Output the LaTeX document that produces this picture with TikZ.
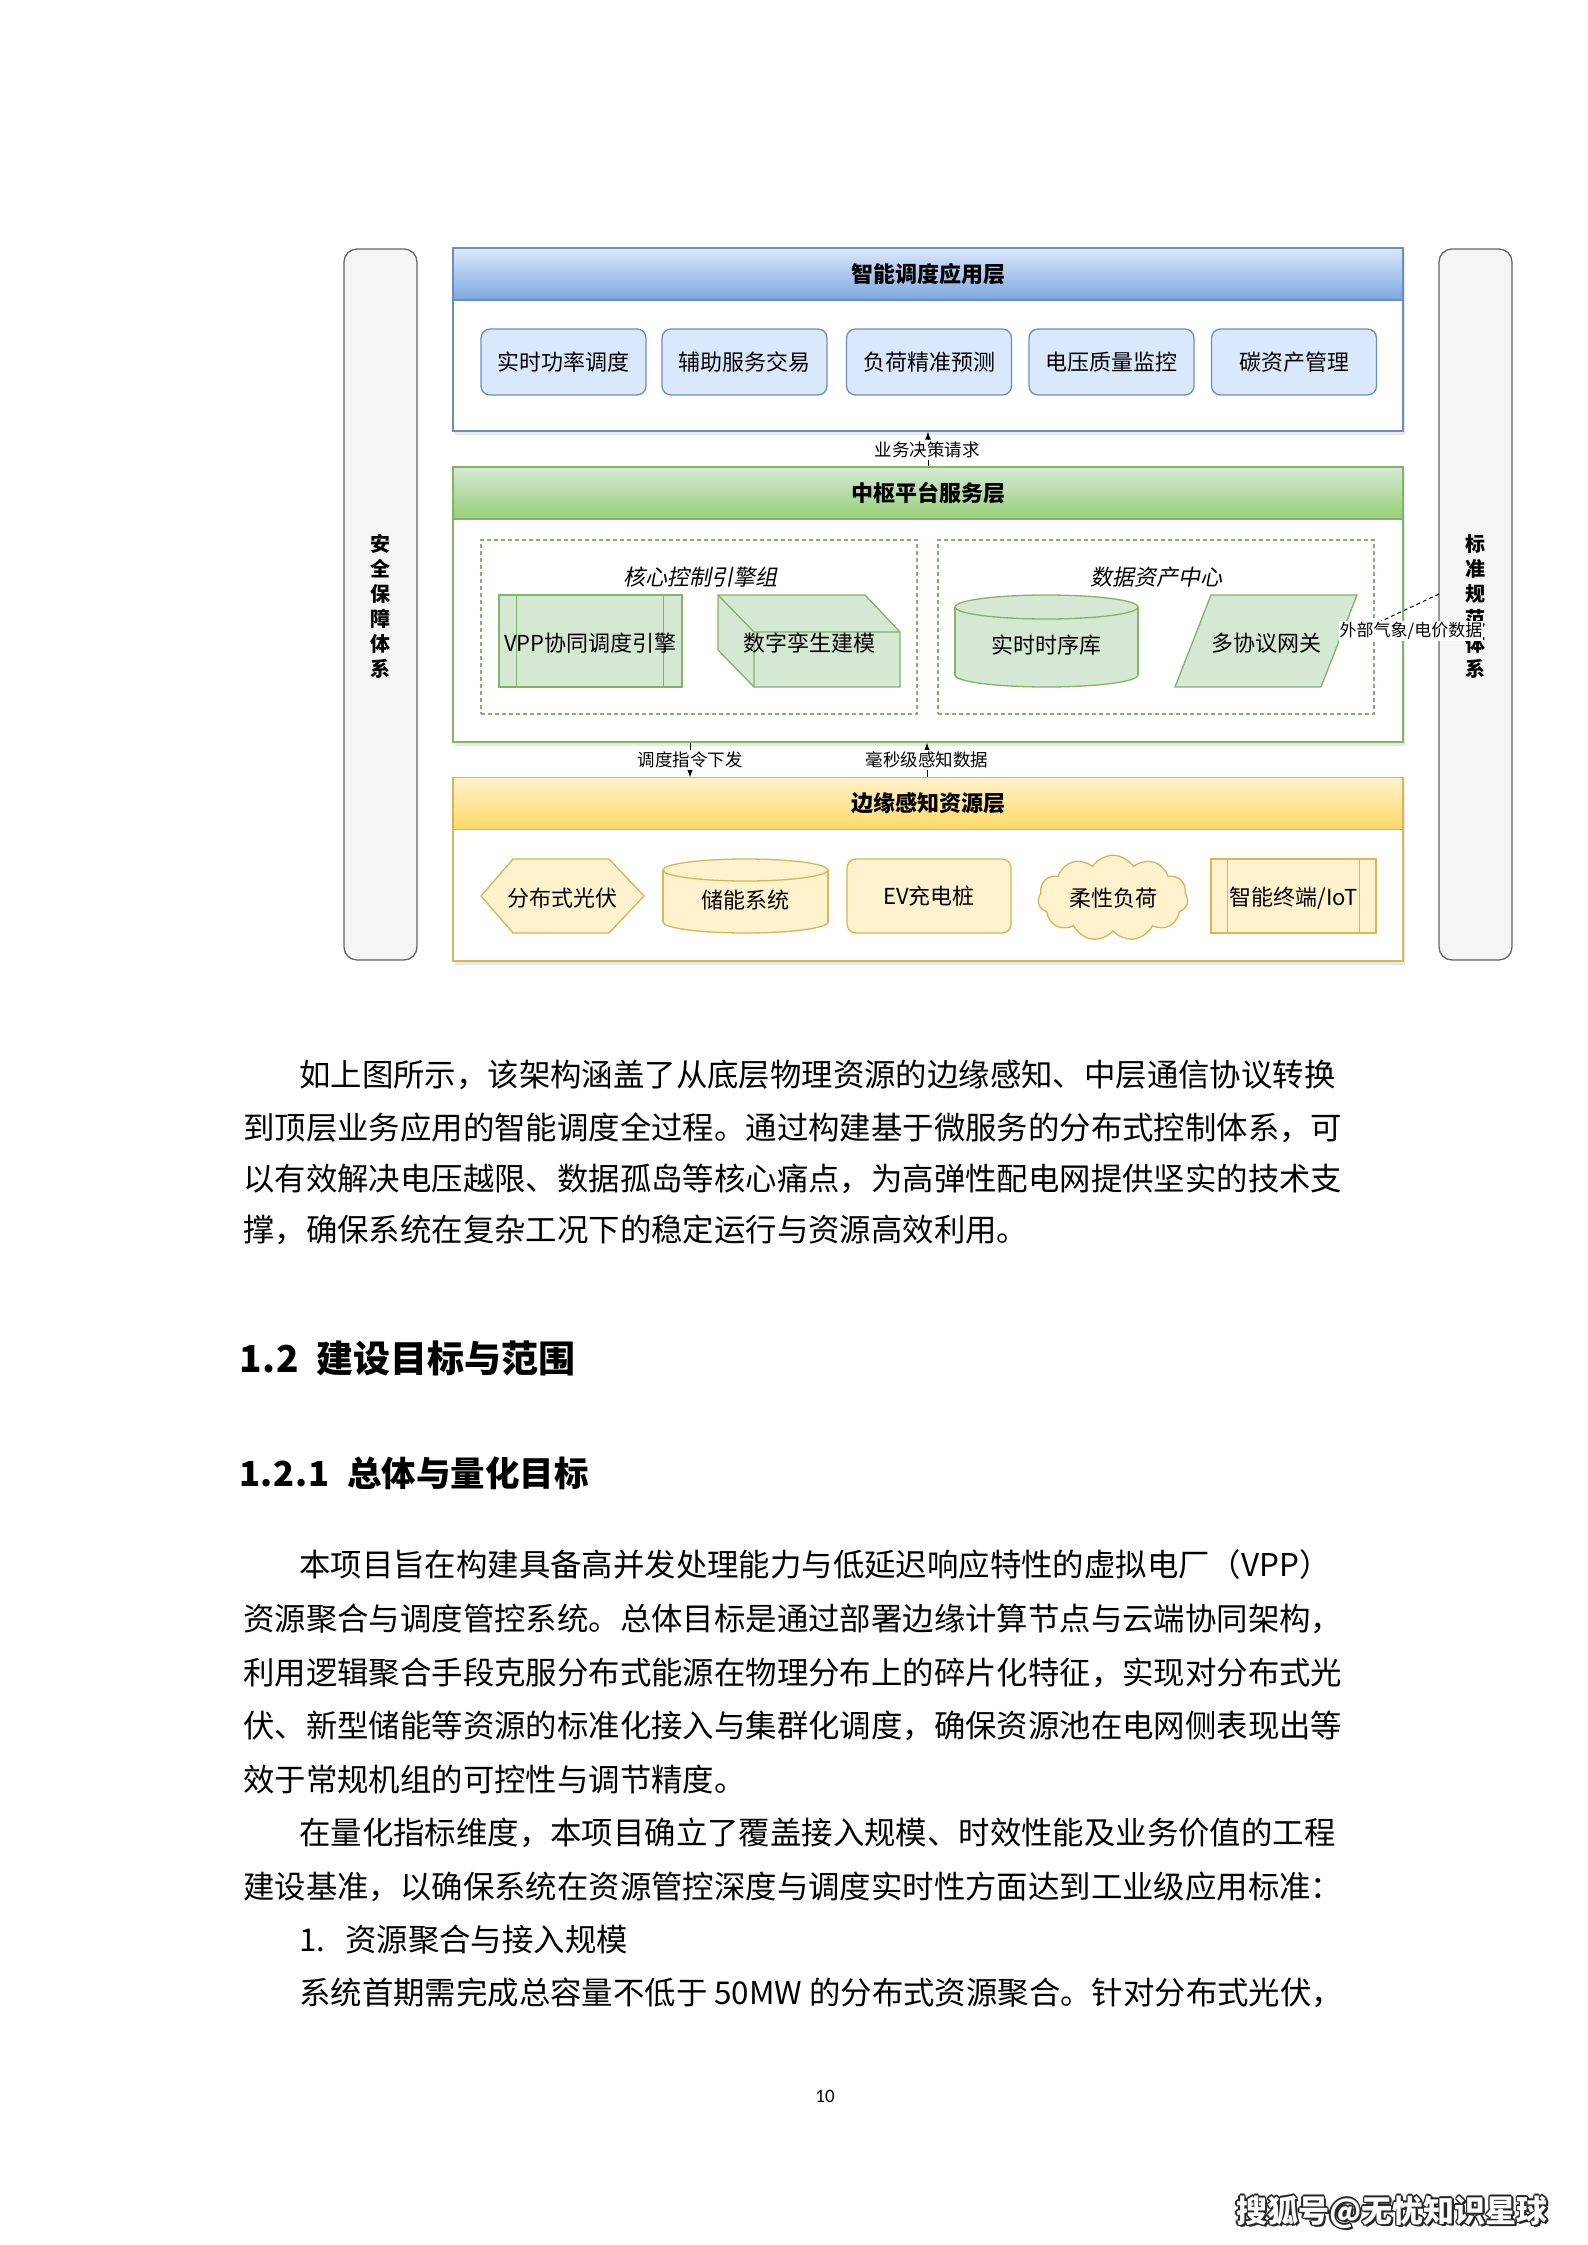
\documentclass[tikz,border=0pt]{standalone}
\usepackage{fontspec}
\setmainfont{Noto Sans CJK SC}
\newfontfamily\cjkit[FakeSlant=0.2]{Noto Sans CJK SC}
\newfontfamily\pagefont{Carlito}
\usetikzlibrary{arrows.meta,shapes.symbols,shadows,calc}
\definecolor{bf}{HTML}{DAE8FC}\definecolor{bg}{HTML}{7EA6E0}\definecolor{bs}{HTML}{6C8EBF}
\definecolor{gf}{HTML}{D5E8D4}\definecolor{gg}{HTML}{97D077}\definecolor{gs}{HTML}{82B366}
\definecolor{yf}{HTML}{FFF2CC}\definecolor{yg}{HTML}{FFD966}\definecolor{ys}{HTML}{D6B656}
\definecolor{sidef}{HTML}{F5F5F5}\definecolor{sides}{HTML}{666666}
\XeTeXinterchartokenstate=1
\XeTeXinterchartoks 1 1 = {\hskip 0pt plus 3pt\relax}
\XeTeXinterchartoks 1 2 = {\hskip 0pt plus 3pt\relax}
\XeTeXinterchartoks 1 3 = {\hskip 0pt plus 3pt\relax}
\XeTeXinterchartoks 2 1 = {\hskip 0pt plus 3pt\relax}
\XeTeXinterchartoks 3 1 = {\hskip 0pt plus 3pt\relax}
\newcommand\dgfont{\fontsize{22}{26}\selectfont}
\newcommand\lblfont{\fontsize{17.5}{20}\selectfont}
\newcommand\bodyfont{\fontsize{31.4}{31.4}\selectfont}
\newcommand\hw[1]{\makebox[0.5em]{#1}}
\tikzset{
  layer/.style={draw=#1, fill=white, line width=1.3pt, minimum width=950, inner sep=0,
    drop shadow={opacity=0.18, shadow xshift=2pt, shadow yshift=-4pt}},
  header/.style n args={3}{draw=#3, top color=#1, bottom color=#2, line width=1.3pt,
    minimum width=950, minimum height=52, inner sep=0, font=\dgfont\bfseries},
  bbox/.style={draw=bs, fill=bf, rounded corners=9, line width=1.3pt, minimum width=165,
    minimum height=66, inner sep=0, font=\dgfont},
  gline/.style={draw=gs, line width=1.3pt},
  yline/.style={draw=ys, line width=1.3pt},
  gbox/.style={draw=gs, fill=gf, line width=1.3pt, inner sep=0, font=\dgfont},
  ybox/.style={draw=ys, fill=yf, line width=1.3pt, inner sep=0, font=\dgfont},
  txt/.style={inner sep=0, font=\dgfont},
  grp/.style={draw=gs, line width=1.3pt, dash pattern=on 4pt off 3pt, fill=none,
    minimum width=436, minimum height=174, inner sep=0},
  side/.style={draw=sides, fill=sidef, rounded corners=13, line width=1.3pt,
    minimum width=73, minimum height=711, inner sep=0},
  sidetext/.style={align=center, inner sep=0, font=\fontsize{20}{25}\selectfont\bfseries},
  arr/.style={draw=black, line width=1pt, -{Latex[length=8pt,width=6pt]}},
  lbl/.style={fill=white, inner sep=1.5pt, font=\lblfont},
  body/.style={anchor=west, inner sep=0, font=\bodyfont},
}
\begin{document}
\begin{tikzpicture}[x=1pt,y=-1pt]
\useasboundingbox (0,0) rectangle (1587,2245);
\fill[white] (0,0) rectangle (1587,2245);

% side bars
\node[side] (lbar) at (380.5,604.5) {};
\node[side] (rbar) at (1475.5,604.5) {};
\node[sidetext] (ltxt) at (380.5,606) {安\\全\\保\\障\\体\\系};
\node[sidetext] (rtxt) at (1475.5,606) {标\\准\\规\\范\\体\\系};

% blue layer
\node[layer=bs, minimum height=183] (blueL) at (928,339.5) {};
\node[header={bf}{bg}{bs}] (blueH) at (928,274) {智能调度应用层};
\node[bbox] (b1) at (563.5,362) {实时功率调度};
\node[bbox] (b2) at (744.5,362) {辅助服务交易};
\node[bbox] (b3) at (929,362) {负荷精准预测};
\node[bbox] (b4) at (1111.5,362) {电压质量监控};
\node[bbox] (b5) at (1294,362) {碳资产管理};

% green layer
\node[layer=gs, minimum height=275] (greenL) at (928,604.5) {};
\node[header={gf}{gg}{gs}] (greenH) at (928,493) {中枢平台服务层};
\node[grp] (grp1) at (699,627) {};
\node[grp] (grp2) at (1156,627) {};
\node[txt, font=\dgfont\cjkit] (g1t) at (700,577) {核心控制引擎组};
\node[txt, font=\dgfont\cjkit] (g2t) at (1156,577) {数据资产中心};

% VPP process
\node[gbox, minimum width=183, minimum height=92] (vpp) at (590.5,641) {};
\draw[gline] ([xshift=18pt]vpp.north west) -- ([xshift=18pt]vpp.south west);
\draw[gline] ([xshift=-19pt]vpp.north east) -- ([xshift=-19pt]vpp.south east);
\node[txt] (vppt) at (590.5,643) {VPP协同调度引擎};

% cube
\filldraw[gbox] (718,595) -- (865,595) -- (900,632) -- (900,687) -- (754,687) -- (718,650) -- cycle;
\draw[gline] (718,595) -- (754,632) -- (900,632) (754,632) -- (754,687);
\node[txt] (twin) at (809,643) {数字孪生建模};

% cylinder
\filldraw[gbox] (1046.5,675) ellipse [x radius=91.5, y radius=12];
\fill[gf] (955,607) rectangle (1138,675);
\draw[gline] (955,607) -- (955,675) (1138,607) -- (1138,675);
\filldraw[gbox] (1046.5,607) ellipse [x radius=91.5, y radius=12];
\node[txt] (tsdb) at (1046.5,645) {实时时序库};

% parallelogram
\filldraw[gbox] (1175,687) -- (1211,595) -- (1357,595) -- (1321,687) -- cycle;
\node[txt] (gw) at (1266,643) {多协议网关};
\coordinate (gwE) at (1339,641);
\coordinate (ext) at (1439,594);

% yellow layer
\node[layer=ys, minimum height=183] (yellowL) at (928,869.5) {};
\node[header={yf}{yg}{ys}] (yellowH) at (928,803.5) {边缘感知资源层};
\filldraw[ybox] (481,896) -- (513,859) -- (609,859) -- (644,896) -- (609,933) -- (513,933) -- cycle;
\node[txt] (pv) at (562.5,898) {分布式光伏};
\filldraw[ybox] (745.5,922) ellipse [x radius=82.5, y radius=11];
\fill[yf] (663,870) rectangle (828,922);
\draw[yline] (663,870) -- (663,922) (828,870) -- (828,922);
\filldraw[ybox] (745.5,870) ellipse [x radius=82.5, y radius=11];
\node[txt] (ess) at (745.5,900) {储能系统};
\node[ybox, rounded corners=9, minimum width=164, minimum height=74] (ev) at (929,896) {EV充电桩};
\node[ybox, cloud, cloud puffs=11, cloud puff arc=115, aspect=1.8, minimum width=150,
  minimum height=80] (flex) at (1113,898) {柔性负荷};
\node[ybox, minimum width=165, minimum height=74] (iot) at (1293.5,896) {};
\draw[yline] ([xshift=17pt]iot.north west) -- ([xshift=17pt]iot.south west);
\draw[yline] ([xshift=-17pt]iot.north east) -- ([xshift=-17pt]iot.south east);
\node[txt] (iott) at (1293.5,898) {智能终端/IoT};

% connectors between layers
\draw[arr] (greenL.north) -- (blueL.south);
\node[lbl] (a1) at (927,450) {业务决策请求};
\node[lbl] (a2) at (690,760) {调度指令下发};
\node[lbl] (a3) at (927,760) {毫秒级感知数据};
\draw[arr] (greenL.south -| a2) -- (yellowL.north -| a2);
\draw[arr] (yellowL.north -| a3) -- (greenL.south -| a3);
\node[lbl] at (927,760) {毫秒级感知数据};
\node[lbl] at (690,760) {调度指令下发};

% external data
\draw[draw=black, line width=1pt, dash pattern=on 4pt off 3pt, -{Latex[length=7pt,width=5pt]}] (ext) -- (gwE);
\node[fill=white, inner sep=1pt, font=\fontsize{17}{20}\selectfont] (extl) at (1411,631) {外部气象/电价数据};

% text body
\node[body] (p1a) at (299,1075) {\makebox[1044pt][s]{如上图所示，该架构涵盖了从底层物理资源的边缘感知、中层通信协议转换}};
\node[body] (p1b) at (243,1128) {\makebox[1100pt][s]{到顶层业务应用的智能调度全过程。通过构建基于微服务的分布式控制体系，可}};
\node[body] (p1c) at (243,1179) {\makebox[1100pt][s]{以有效解决电压越限、数据孤岛等核心痛点，为高弹性配电网提供坚实的技术支}};
\node[body] (p1d) at (243,1230) {撑，确保系统在复杂工况下的稳定运行与资源高效利用。};

\node[anchor=west, inner sep=0, font=\fontsize{37}{37}\selectfont\bfseries] (h12) at (241,1358)
  {\hw{1}\hw{.}\hw{2}\hspace{20pt}建设目标与范围};
\node[anchor=west, inner sep=0, font=\fontsize{34.5}{34.5}\selectfont\bfseries] (h121) at (241,1473)
  {\hw{1}\hw{.}\hw{2}\hw{.}\hw{1}\hspace{20pt}总体与量化目标};

\node[body] (p2a) at (299,1565) {\makebox[1044pt][s]{本项目旨在构建具备高并发处理能力与低延迟响应特性的虚拟电厂（VPP）}};
\node[body] (p2b) at (243,1619) {\makebox[1100pt][s]{资源聚合与调度管控系统。总体目标是通过部署边缘计算节点与云端协同架构，}};
\node[body] (p2c) at (243,1673) {\makebox[1100pt][s]{利用逻辑聚合手段克服分布式能源在物理分布上的碎片化特征，实现对分布式光}};
\node[body] (p2d) at (243,1726) {\makebox[1100pt][s]{伏、新型储能等资源的标准化接入与集群化调度，确保资源池在电网侧表现出等}};
\node[body] (p2e) at (243,1780) {效于常规机组的可控性与调节精度。};
\node[body] (p2f) at (299,1833) {\makebox[1044pt][s]{在量化指标维度，本项目确立了覆盖接入规模、时效性能及业务价值的工程}};
\node[body] (p2g) at (243,1887) {\makebox[1100pt][s]{建设基准，以确保系统在资源管控深度与调度实时性方面达到工业级应用标准：}};
\node[body] (p2h) at (299,1940) {1.\hspace{20pt}资源聚合与接入规模};
\node[body] (p2i) at (299,1993) {\makebox[1044pt][s]{系统首期需完成总容量不低于 50MW 的分布式资源聚合。针对分布式光伏，}};

\node[inner sep=0, font=\pagefont\fontsize{19}{19}\selectfont] (pg) at (825,2096) {10};

% footer watermark
\foreach \dx/\dy in {-1.6/0,1.6/0,0/-1.6,0/1.6,1.6/1.6,-1.2/-1.2,1.2/-1.2,-1.2/1.2,2.2/2.2}
  \node[inner sep=0, text=black!85, font=\fontsize{31}{31}\selectfont\bfseries] at (1392+\dx,2212+\dy) {搜狐号@无忧知识星球};
\node[inner sep=0, text=white, font=\fontsize{31}{31}\selectfont\bfseries] (foot) at (1392,2212) {搜狐号@无忧知识星球};
\end{tikzpicture}
\end{document}
